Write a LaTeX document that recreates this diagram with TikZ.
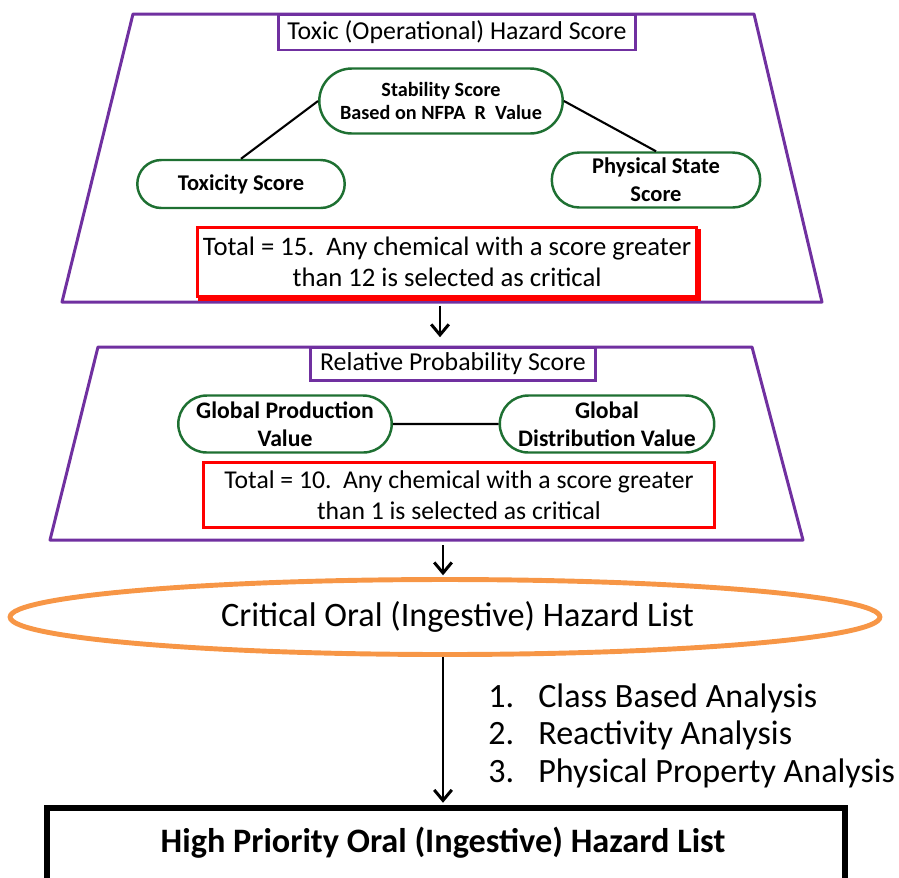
\documentclass[tikz,border=0pt]{standalone}
\usepackage{fontspec}
\setmainfont{Carlito}
\usepackage{tikz}
\usetikzlibrary{arrows.meta, positioning, shapes.geometric, shapes.misc, shadows}
\definecolor{framecolor}{RGB}{112, 48, 160}
\definecolor{scorecolor}{RGB}{30, 112, 50}
\definecolor{listcolor}{RGB}{247, 150, 70}
\definecolor{totalcolor}{RGB}{255, 0, 0}

\begin{document}
\begin{tikzpicture}[
    x=0.02cm, y=-0.02cm,
    frame/.style={draw=framecolor, line width=1.7pt, line join=round},
    heading/.style={draw=framecolor, fill=white, line width=1.7pt, inner sep=0pt, font=\fontsize{14.7}{16}\selectfont},
    score/.style={draw=scorecolor, fill=white, rounded rectangle, line width=1.4pt, inner sep=1pt, align=center, font=\bfseries\fontsize{12.8}{16}\selectfont},
    total/.style={draw=totalcolor, fill=white, line width=1.7pt, inner sep=0pt, align=center, font=\fontsize{15.2}{18}\selectfont},
    link/.style={line width=1.2pt},
    arrow/.style={-{Straight Barb[length=6pt, width=10pt]}, line width=1.7pt}
]
    \clip (0,0) rectangle (899,877);

    % Toxic hazard panel
    \draw[frame] (133,14) -- (754,14) -- (822,302) -- (62,302) -- cycle;
    \node[heading, minimum width=7.14cm, minimum height=0.72cm] (hazardtitle) at (457,32) {Toxic (Operational) Hazard Score};
    \node[score, minimum width=4.94cm, minimum height=1.3cm, font=\bfseries\fontsize{11.5}{13}\selectfont] (stability) at (441,101) {Stability Score\\Based on NFPA\ \ R\ \ Value};
    \node[score, minimum width=4.22cm, minimum height=0.96cm] (toxicity) at (241,184) {Toxicity Score};
    \node[score, minimum width=4.24cm, minimum height=1.1cm] (physical) at (656,180) {Physical State\\Score};
    \node[total, minimum width=10cm, minimum height=1.38cm, copy shadow={shadow xshift=1.2pt, shadow yshift=-1.5pt}] (hazardtotal) at (447,262) {Total = 15.\ \ Any chemical with a score greater\\than 12 is selected as critical};
    \coordinate (hazardbase) at (440,302);

    \draw[link] (stability.west) -- (toxicity.north);
    \draw[link] (stability.east) -- (physical.north);

    % Probability panel
    \draw[frame] (98,347) -- (752,347) -- (803,540) -- (50,540) -- cycle;
    \node[heading, minimum width=5.72cm, minimum height=0.66cm] (probtitle) at (453,364) {Relative Probability Score};
    \node[score, minimum width=4.34cm, minimum height=1.14cm, font=\bfseries\fontsize{13.5}{16}\selectfont] (production) at (285,424) {Global Production\\Value};
    \node[score, minimum width=4.36cm, minimum height=1.14cm, font=\bfseries\fontsize{13.5}{16}\selectfont] (distribution) at (607,424) {Global\\Distribution Value};
    \node[total, minimum width=10.24cm, minimum height=1.3cm, font=\fontsize{14.6}{18}\selectfont] (probtotal) at (459,495) {Total = 10.\ \ Any chemical with a score greater\\than 1 is selected as critical};
    \coordinate (probbase) at (443,540);

    \draw[link] (production) -- (distribution);

    % Lists
    \node[ellipse, draw=listcolor, line width=2.8pt, minimum width=17.4cm, minimum height=1.5cm, inner sep=0pt, font=\fontsize{19.5}{22}\selectfont] (critical) at (445,617) {\hspace{0.5cm}Critical Oral (Ingestive) Hazard List};
    \node[draw, line width=3.4pt, minimum width=15.96cm, minimum height=1.7cm] (priority) at (446,850) {};
    \node[font=\bfseries\fontsize{19.5}{22}\selectfont] (prioritytext) at (443,843) {High Priority Oral (Ingestive) Hazard List};
    \node[anchor=north west, inner sep=0pt, align=left, font=\fontsize{19.4}{21.5}\selectfont] (steps) at (488,683) {%
        \makebox[1cm][l]{1.}Class Based Analysis\\
        \makebox[1cm][l]{2.}Reactivity Analysis\\
        \makebox[1cm][l]{3.}Physical Property Analysis};

    % Flow
    \draw[arrow, shorten <=2pt, shorten >=5pt] (hazardbase) -- (hazardbase |- probtitle.north);
    \draw[arrow, shorten <=3pt, shorten >=1pt] (probbase) -- (probbase |- critical.north);
    \draw[arrow, shorten >=1pt] (critical.south -| probbase) -- (probbase |- priority.north);
\end{tikzpicture}
\end{document}
